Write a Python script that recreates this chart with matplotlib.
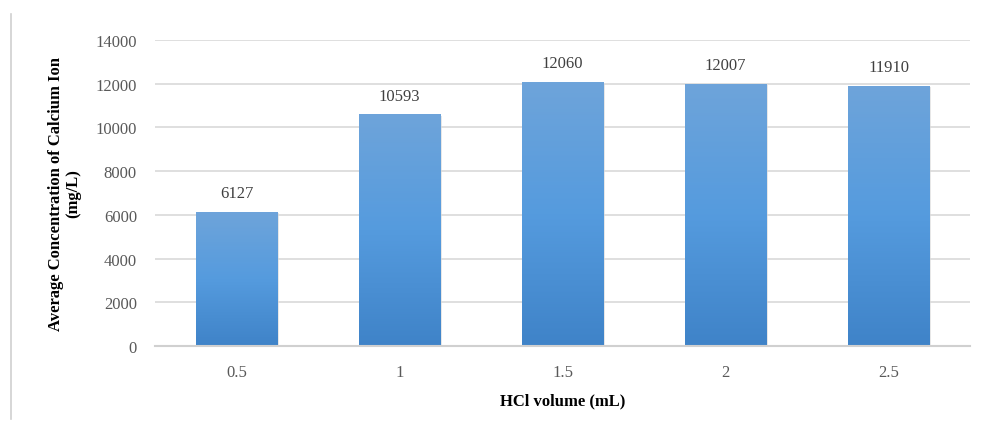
import matplotlib.pyplot as plt
import numpy as np
from matplotlib.colors import LinearSegmentedColormap

# data
hcl_volume = ['0.5', '1', '1.5', '2', '2.5']
calcium = [6127, 10593, 12060, 12007, 11910]
y_ticks = [0, 2000, 4000, 6000, 8000, 10000, 12000, 14000]

plt.rcParams['font.family'] = ['Liberation Serif', 'DejaVu Serif']

fig = plt.figure(figsize=(9.85, 4.35), dpi=100)
ax = fig.add_axes([155 / 985, 88 / 435, 815 / 985, 306 / 435])

x = np.arange(len(hcl_volume))
bars = ax.bar(x, calcium, width=0.5, color='#5b9bd5', zorder=2)

# excel-like vertical gradient on each bar
cmap = LinearSegmentedColormap.from_list('bar', ['#6ea4da', '#559bde', '#3f83c8'])
grad = np.linspace(0, 1, 256).reshape(-1, 1)
for b in bars:
    bx, by = b.get_x(), b.get_y()
    bw, bh = b.get_width(), b.get_height()
    # soft shadow on the right/bottom
    ax.bar(bx + bw / 2 + 0.012, bh, width=bw, bottom=-60, color='#d8d8d8',
           alpha=0.6, zorder=1.5, linewidth=0)
    im = ax.imshow(grad, cmap=cmap, aspect='auto', zorder=2.5,
                   extent=[bx, bx + bw, by, by + bh], origin='upper')
    im.set_clip_path(b)
    ax.text(bx + bw / 2, bh + 500, str(int(bh)), ha='center', va='bottom',
            fontsize=12, color='#404040')

ax.set_xlim(-0.5, len(hcl_volume) - 0.5)
ax.set_ylim(0, 14000)
ax.set_yticks(y_ticks)
ax.set_xticks(x)
ax.set_xticklabels(hcl_volume)
ax.grid(axis='y', color='#d9d9d9', linewidth=1.2, zorder=0)
ax.set_axisbelow(True)
for s in ['top', 'right', 'left']:
    ax.spines[s].set_visible(False)
ax.spines['bottom'].set_color('#d0d0d0')
ax.spines['bottom'].set_linewidth(1.5)
ax.tick_params(length=0, labelsize=12, labelcolor='#595959', pad=13)
ax.tick_params(axis='x', pad=13)

ax.set_xlabel('HCl volume (mL)', fontsize=12, fontweight='bold', labelpad=9)
ax.set_ylabel('Average Concentration of Calcium Ion\n(mg/L)', fontsize=12,
              fontweight='bold', labelpad=10, linespacing=1.1)

# thin frame line on the left like the source image
fig.add_artist(plt.Line2D([11 / 985, 11 / 985], [15 / 435, 420 / 435],
                          color='#d0d0d0', linewidth=1.2))

fig.savefig('out.png', dpi=100)
